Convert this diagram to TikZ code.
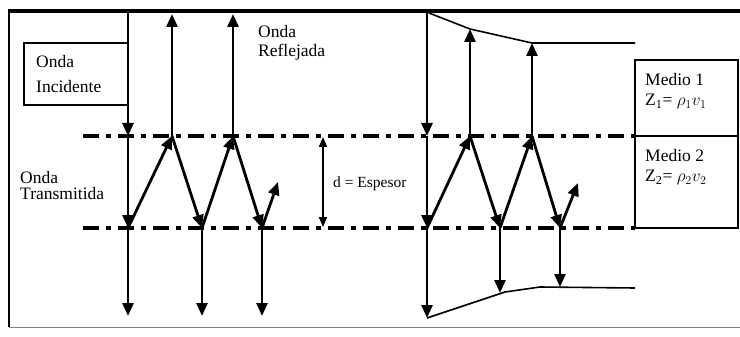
\documentclass[tikz,border=0pt]{standalone}
\usepackage{fontspec}
\setmainfont{Liberation Serif}
\usetikzlibrary{arrows.meta}

\tikzset{
  ray/.style={line width=2.8pt,-{Triangle[length=13pt,width=11pt]}},
  face/.style={line width=4pt,dash pattern=on 16pt off 7pt on 5pt off 7pt},
  edge/.style={line width=1.6pt},
  lbl/.style={anchor=base west,inner sep=0pt,font=\fontsize{17.5}{17.5}\selectfont},
}

\begin{document}
\begin{tikzpicture}[x=1pt,y=-1pt]
\useasboundingbox (0,0) rectangle (740,337);
% frame
\draw[edge] (9,327)--(9,11);
\draw[line width=3.5pt] (8,11)--(740,11);
\draw[line width=0.6pt,gray] (9,327)--(740,327);

% the two faces of the plate
\coordinate (fA1) at (83,136);  \coordinate (fA2) at (635,136);
\coordinate (fB1) at (83,228);  \coordinate (fB2) at (635,228);
\draw[face] (fA1)--(fA2);
\draw[face] (fB1)--(fB2);

% left: rays
\coordinate (inTop) at (128,12);
\coordinate (inA) at (128,136);
\coordinate (inB) at (128,228);
\coordinate (inEnd) at (128,316);
\coordinate (upA) at (172,136);
\coordinate (upB) at (233,136);
\coordinate (dnA) at (202,228);
\coordinate (dnB) at (262,228);
\coordinate (rfA) at (172,14);
\coordinate (rfB) at (233,14);
\coordinate (trA) at (202,316);
\coordinate (trB) at (262,316);
\coordinate (last) at (278,182);
\foreach \a/\b in {inTop/inA,inA/inB,inB/inEnd,inB/upA,upA/dnA,dnA/upB,upB/dnB,dnB/last,
                   upA/rfA,upB/rfB,dnA/trA,dnB/trB}
  \draw[ray] (\a)--(\b);

% right: rays with decay
\coordinate (RinTop) at (427,12);
\coordinate (RinA) at (427,136);
\coordinate (RinB) at (427,228);
\coordinate (RinEnd) at (427,318);
\coordinate (RupA) at (470,136);
\coordinate (RupB) at (532,136);
\coordinate (RdnA) at (500,228);
\coordinate (RdnB) at (560,228);
\coordinate (RrfA) at (470,29);
\coordinate (RrfB) at (532,43);
\coordinate (RtrA) at (500,293);
\coordinate (RtrB) at (560,287);
\coordinate (Rlast) at (578,183);
\foreach \a/\b in {RinTop/RinA,RinA/RinB,RinB/RinEnd,RinB/RupA,RupA/RdnA,RdnA/RupB,RupB/RdnB,RdnB/Rlast,
                   RupA/RrfA,RupB/RrfB,RdnA/RtrA,RdnB/RtrB}
  \draw[ray] (\a)--(\b);
\draw[edge] (429,13)--(RrfA)--(RrfB)--(635,43);
\draw[edge] (RinEnd)--(505,292)--(540,287)--(635,288);

% thickness
\coordinate (dTop) at (323,137);
\coordinate (dBot) at (323,227);
\draw[line width=1.8pt,{Triangle[length=10pt,width=8pt]}-{Triangle[length=10pt,width=8pt]}] (dTop)--(dBot);
\node[lbl,font=\fontsize{15.5}{15.5}\selectfont] (esp) at (333,187) {d = Espesor};

% labels
\draw[edge] (24,43) rectangle (128,105);
\node[lbl] (incA) at (36,68) {Onda};
\node[lbl] (incB) at (36,93) {Incidente};
\node[lbl] (refA) at (258,38) {Onda};
\node[lbl] (refB) at (258,57) {Reflejada};
\node[lbl] (traA) at (20,183) {Onda};
\node[lbl] (traB) at (20,200) {Transmitida};

% media
\draw[edge] (635,60) rectangle (738,228);
\draw[edge] (635,136)--(738,136);
\node[lbl] (medA) at (645,86) {Medio 1};
\node[lbl] (zA) at (645,106) {Z\textsubscript{1}= $\rho_1v_1$};
\node[lbl] (medB) at (645,161) {Medio 2};
\node[lbl] (zB) at (645,182) {Z\textsubscript{2}= $\rho_2v_2$};
\end{tikzpicture}
\end{document}
